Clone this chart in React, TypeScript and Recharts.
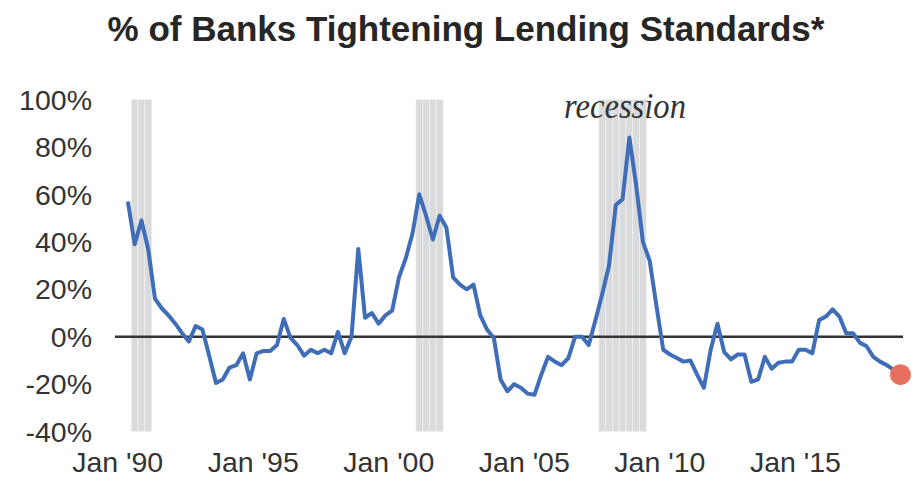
import React from 'react';
import { ComposedChart, Line, Bar, XAxis, YAxis, ReferenceLine } from 'recharts';

// ---- data ----
const START_YEAR = 1990;
const START_QUARTER = 2;

// Net % of banks tightening lending standards, quarterly from 1990Q2
const tighteningPct = [
  57, 39, 49, 37, 16, 12, 9, 5.5, 1.5, -2,
  4.5, 3, -8, -19.5, -18, -13, -12, -7, -18, -7,
  -6, -6, -3.5, 7.5, -0.5, -3.5, -8, -5.5, -7, -5.5,
  -7, 2, -7, 0, 37, 8, 10, 5.5, 9, 11,
  25, 33, 43.5, 60, 51, 41, 51, 46, 25, 22,
  20, 22, 9, 3, -0.5, -18, -23, -20, -21.5, -24,
  -24.5, -16, -8.5, -10.5, -12, -9, 0, 0, -3.5, 7,
  18, 30, 55.5, 58, 84, 64, 40, 32, 13, -5.5,
  -7.5, -9, -10.5, -10, -16, -21.5, -5.5, 5.5, -6.5, -9.5,
  -7.5, -7.5, -19, -18, -8.5, -13.5, -11, -10.5, -10.5, -5.5,
  -5.5, -7, 7, 8.5, 11.5, 8.5, 1.5, 1.5, -2.5, -4,
  -8.5, -10.5, -12, -14, -16,
];

const recessionQuarters = [
  '1990Q3', '1990Q4', '1991Q1',
  '2001Q1', '2001Q2', '2001Q3', '2001Q4',
  '2007Q4', '2008Q1', '2008Q2', '2008Q3', '2008Q4', '2009Q1', '2009Q2',
];
const recessionRange = [-40, 100];

const yTicks = [-40, -20, 0, 20, 40, 60, 80, 100];
const xTickYears = [1990, 1995, 2000, 2005, 2010, 2015];
const xTickLabels = ["Jan '90", "Jan '95", "Jan '00", "Jan '05", "Jan '10", "Jan '15"];

const titleText = '% of Banks Tightening Lending Standards*';
const recessionText = 'recession';

const data = tighteningPct.map((v, i) => {
  const qIndex = START_QUARTER - 1 + i;
  const year = START_YEAR + Math.floor(qIndex / 4);
  const q = (qIndex % 4) + 1;
  const label = `${year}Q${q}`;
  return {
    quarter: label,
    t: year + (q - 1) / 4 + 0.125,
    pct: v,
    rec: recessionQuarters.includes(label) ? recessionRange : null,
  };
});

const LAST = data.length - 1;
const FONT = '"Liberation Sans", Arial, sans-serif';

const renderDot = (props: any) => {
  const { cx, cy, index } = props;
  if (index === LAST) {
    return <circle key={`dot-${index}`} cx={cx} cy={cy} r={10.5} fill="#E8705F" stroke="none" />;
  }
  return <g key={`dot-${index}`} />;
};

export default function App() {
  return (
    <div style={{ position: 'absolute', left: 0, top: 0, width: 922, height: 482, background: '#fff' }}>
      <ComposedChart
        width={922}
        height={482}
        data={data}
        margin={{ top: 99.5, right: 19, bottom: 0, left: 0 }}
        barCategoryGap={0}
        barGap={0}
      >
        <XAxis
          dataKey="t"
          type="number"
          domain={[1989.9, 2018.97]}
          ticks={xTickYears}
          interval={0}
          tickFormatter={(v: number) => xTickLabels[xTickYears.indexOf(v)] ?? ''}
          axisLine={false}
          tickLine={false}
          tickSize={0}
          tickMargin={20}
          height={50.4}
          tick={{ fill: '#333', fontSize: 28.5, fontFamily: FONT }}
        />
        <YAxis
          type="number"
          domain={[-40, 100]}
          ticks={yTicks}
          interval={0}
          tickFormatter={(v: number) => `${v}%`}
          axisLine={false}
          tickLine={false}
          tickSize={0}
          tickMargin={23}
          width={115}
          tick={{ fill: '#333', fontSize: 28.5, fontFamily: FONT }}
        />
        <Bar dataKey="rec" fill="#D9DADC" stroke="#F1F1F1" strokeWidth={0.8} isAnimationActive={false} />
        <ReferenceLine y={0} stroke="#333" strokeWidth={2.5} />
        <Line
          dataKey="pct"
          type="linear"
          stroke="#3F6DB7"
          strokeWidth={4}
          strokeLinejoin="round"
          dot={renderDot}
          activeDot={false}
          isAnimationActive={false}
        />
      </ComposedChart>
      <svg
        width={922}
        height={482}
        style={{ position: 'absolute', left: 0, top: 0, pointerEvents: 'none' }}
      >
        <text x={466} y={41} textAnchor="middle" fontFamily={FONT} fontWeight="bold" fontSize={35} fill="#262626">
          {titleText}
        </text>
        <text
          x={564}
          y={118}
          fontFamily='"Liberation Serif", "Times New Roman", serif'
          fontStyle="italic"
          fontSize={35}
          fill="#333"
          textLength={122}
          lengthAdjust="spacingAndGlyphs"
        >
          {recessionText}
        </text>
      </svg>
    </div>
  );
}
